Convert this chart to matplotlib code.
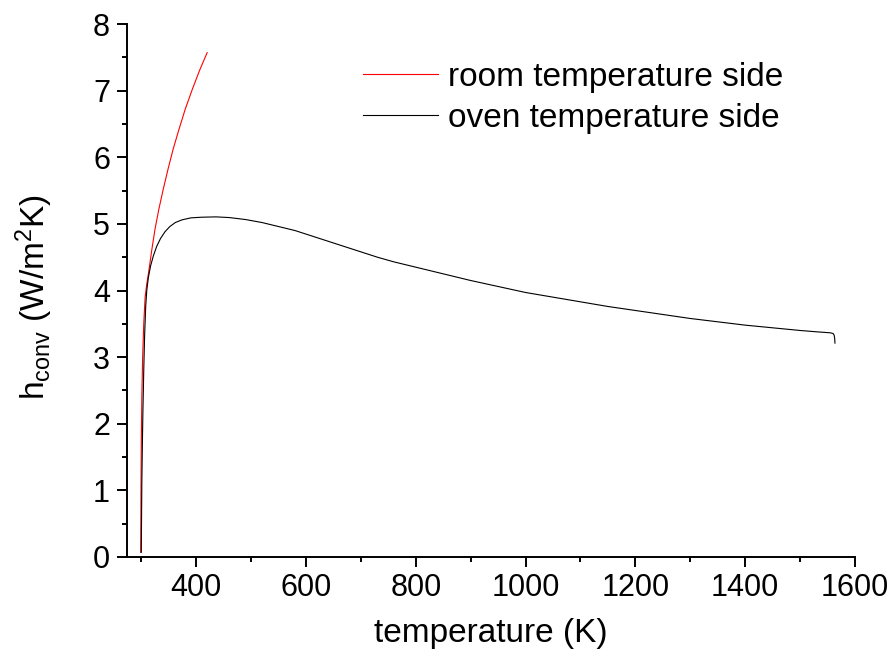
import matplotlib
matplotlib.use("Agg")
import matplotlib.pyplot as plt
from matplotlib.ticker import MultipleLocator

plt.rcParams['font.family'] = ['Liberation Sans', 'DejaVu Sans']
plt.rcParams['mathtext.default'] = 'regular'

# room temperature side (red)
room_T = [299, 299.5, 300, 301, 302.5, 304.5, 307, 310, 313, 319, 325, 332, 340, 349,
          358, 368, 380, 393, 406, 420]
room_h = [0.07, 1.0, 1.7, 2.4, 3.0, 3.5, 3.9, 4.1, 4.25, 4.6, 4.92, 5.22, 5.52, 5.83,
          6.12, 6.4, 6.72, 7.02, 7.3, 7.57]

# oven temperature side (black)
oven_T = [300, 300.5, 301, 302, 303, 304.5, 306, 308, 310, 313, 317, 322, 328, 335, 343,
          352, 362, 374, 390, 410, 436, 460, 490, 520, 550, 580, 610, 640, 670, 700, 730,
          760, 800, 850, 900, 950, 1000, 1050, 1100, 1150, 1200, 1250, 1300, 1350, 1400,
          1450, 1500, 1530, 1555, 1560, 1562, 1563, 1563.5]
oven_h = [0.07, 0.6, 1.1, 1.7, 2.2, 2.8, 3.3, 3.75, 4.0, 4.2, 4.37, 4.52, 4.66, 4.78, 4.88,
          4.96, 5.02, 5.06, 5.09, 5.10, 5.105, 5.095, 5.065, 5.02, 4.96, 4.9, 4.82, 4.74,
          4.66, 4.58, 4.5, 4.43, 4.35, 4.25, 4.15, 4.06, 3.97, 3.9, 3.83, 3.76, 3.7, 3.64,
          3.58, 3.53, 3.48, 3.44, 3.40, 3.38, 3.365, 3.355, 3.33, 3.28, 3.21]

x_ticks = [400, 600, 800, 1000, 1200, 1400, 1600]
y_ticks = [0, 1, 2, 3, 4, 5, 6, 7, 8]

fig = plt.figure(figsize=(8.93, 6.66), dpi=100)
ax = fig.add_axes([127/893, 1-557/666, (855-127)/893, (557-24)/666])

ax.plot(room_T, room_h, color='#ff0000', lw=0.8, label='room temperature side')
ax.plot(oven_T, oven_h, color='black', lw=0.8, label='oven temperature side')

ax.set_xlim(274, 1600)
ax.set_ylim(0, 8)
ax.set_xticks(x_ticks)
ax.set_yticks(y_ticks)
ax.xaxis.set_minor_locator(MultipleLocator(100))
ax.yaxis.set_minor_locator(MultipleLocator(0.5))

for s in ['top', 'right']:
    ax.spines[s].set_visible(False)
for s in ['left', 'bottom']:
    ax.spines[s].set_linewidth(1.4)

ax.tick_params(which='major', direction='out', length=7.2, width=1.4, labelsize=22)
ax.tick_params(axis='x', which='major', pad=4.3)
ax.tick_params(axis='y', which='major', pad=5)
ax.tick_params(which='minor', direction='out', length=3.6, width=1.4)

ax.set_xlabel('temperature (K)', fontsize=24, labelpad=11)
ax.set_ylabel(r'h$_{conv}$ (W/m$^{2}$K)', fontsize=24)
ax.yaxis.set_label_coords(-(127 - 55) / 728, 0.488)

leg = ax.legend(loc='upper left', bbox_to_anchor=(363/893, 1-62/666),
                bbox_transform=fig.transFigure, frameon=False, fontsize=24,
                handlelength=2.25, handletextpad=0.3, labelspacing=0.29,
                borderpad=0, borderaxespad=0)

fig.savefig('out.png', dpi=100)
